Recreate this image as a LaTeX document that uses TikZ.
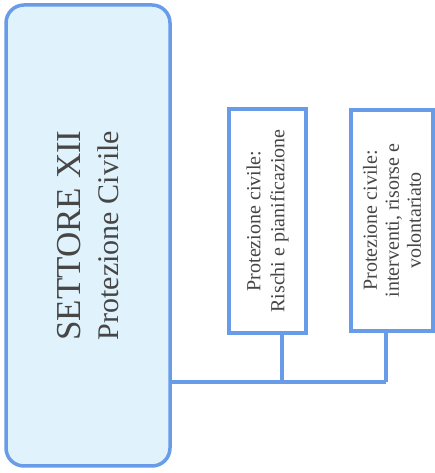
\documentclass[tikz,border=0pt]{standalone}
\usepackage{fontspec}
\setmainfont{Liberation Serif}
\definecolor{edgeblue}{RGB}{104,156,232}
\definecolor{fillblue}{RGB}{224,242,251}
\definecolor{txtgray}{RGB}{70,70,70}
\tikzset{
  mainbox/.style={draw=edgeblue, fill=fillblue, line width=3.5pt, rounded corners=18pt,
    rotate=90, minimum width=461pt, minimum height=164pt, inner sep=0pt,
    text=txtgray, align=center, font=\fontsize{35}{36}\selectfont},
  subbox/.style={draw=edgeblue, fill=white, line width=3.2pt,
    rotate=90, inner sep=0pt, text=txtgray, align=center,
    font=\fontsize{20}{24}\selectfont},
  link/.style={draw=edgeblue, line width=3.2pt}
}
\begin{document}
\begin{tikzpicture}[x=1pt,y=1pt]
\useasboundingbox (0,0) rectangle (435,473);
\coordinate (j1) at (282,91);
\coordinate (j2) at (386,91);
\node[mainbox] (main) at (88,237.5)
  {SETTORE XII\\[2pt]{\fontsize{30}{36}\selectfont Protezione Civile}};
\node[subbox, minimum width=224pt, minimum height=77pt] (b1) at (267.5,252)
  {Protezione civile:\\Rischi e pianificazione};
\node[subbox, minimum width=221pt, minimum height=82pt, font=\fontsize{20}{22}\selectfont] (b2) at (392,252.5)
  {Protezione civile:\\interventi, risorse e\\volontariato};
\draw[link] (main.south |- j1) -- (j1) -- (j2);
\draw[link] (j1) -- (j1 |- b1.west);
\draw[link] (j2) -- (j2 |- b2.west);
\end{tikzpicture}
\end{document}
